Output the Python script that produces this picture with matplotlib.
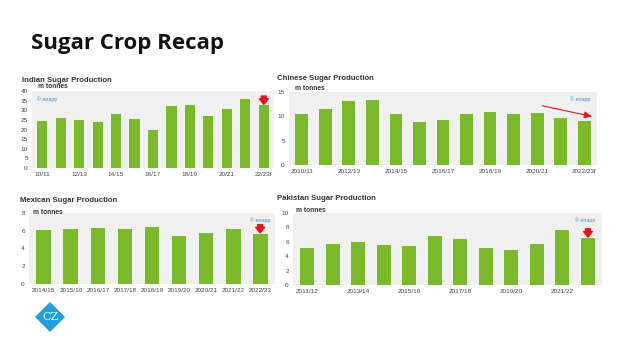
import matplotlib
matplotlib.use("Agg")
import matplotlib.pyplot as plt
from matplotlib.patches import Polygon

# ---- data ----
india_years = ["10/11", "11/12", "12/13", "13/14", "14/15", "15/16", "16/17",
               "17/18", "18/19", "19/20", "20/21", "21/22", "22/23f"]
india_vals = [24.3, 25.8, 25.1, 24.0, 27.9, 25.6, 20.0, 32.1, 32.9, 27.2, 30.4, 36.0, 32.7]

china_years = ["2010/11", "2011/12", "2012/13", "2013/14", "2014/15", "2015/16", "2016/17",
               "2017/18", "2018/19", "2019/20", "2020/21", "2021/22", "2022/23f"]
china_vals = [10.5, 11.5, 13.1, 13.4, 10.5, 8.8, 9.3, 10.4, 10.9, 10.5, 10.7, 9.6, 9.1]

mex_years = ["2014/15", "2015/16", "2016/17", "2017/18", "2018/19", "2019/20",
             "2020/21", "2021/22", "2022/23"]
mex_vals = [6.05, 6.15, 6.35, 6.15, 6.43, 5.38, 5.75, 6.15, 5.68]

pak_years = ["2011/12", "2012/13", "2013/14", "2014/15", "2015/16", "2016/17",
             "2017/18", "2018/19", "2019/20", "2020/21", "2021/22", "2022/23"]
pak_vals = [5.2, 5.75, 6.0, 5.5, 5.45, 6.85, 6.45, 5.2, 4.8, 5.65, 7.65, 6.55]

W, H = 624, 349
plt.rcParams["font.family"] = ["Liberation Sans", "DejaVu Sans"]
fig = plt.figure(figsize=(W / 100, H / 100), dpi=100)
fig.patch.set_facecolor("white")

GREEN = "#7ab929"
BG = "#f0f0f0"
TXT = "#444444"


def px_axes(left, top, right, bottom):
    return fig.add_axes([left / W, 1 - bottom / H, (right - left) / W, (bottom - top) / H])


def make_chart(box, cats, vals, ymax, ystep, label_every, title, title_xy, unit_xy,
               logo_left=False, down_arrow=True):
    ax = px_axes(*box)
    x = list(range(len(cats)))
    ax.set_facecolor(BG)
    ax.bar(x, vals, width=0.55, color=GREEN, zorder=2)
    ax.set_xlim(-0.55, len(cats) - 0.45)
    ax.set_ylim(0, ymax)
    ax.set_yticks([v for v in range(0, ymax + 1, ystep)])
    ax.set_xticks(x[::label_every])
    ax.set_xticklabels(cats[::label_every])
    ax.tick_params(axis="both", length=0, labelsize=4.6, colors=TXT, pad=3)
    for s in ax.spines.values():
        s.set_visible(False)
    fig.text(title_xy[0] / W, 1 - title_xy[1] / H, title, fontsize=5.6,
             fontweight="bold", color="#333333", va="center", ha="left")
    fig.text(unit_xy[0] / W, 1 - unit_xy[1] / H, "m tonnes", fontsize=4.8,
             fontweight="bold", color="#333333", va="center", ha="left")
    if logo_left:
        ax.text(0.02, 0.9, "© enapp", transform=ax.transAxes, fontsize=3.8,
                color="#3a8fd6", ha="left", va="center")
    else:
        ax.text(0.98, 0.9, "© enapp", transform=ax.transAxes, fontsize=3.8,
                color="#3a8fd6", ha="right", va="center")
    if down_arrow:
        ax.annotate("", xy=(x[-1], vals[-1]), xycoords="data",
                    xytext=(0, 6.5), textcoords="offset points",
                    arrowprops=dict(arrowstyle="simple,head_width=0.8,head_length=0.5,tail_width=0.45",
                                    mutation_scale=8, color="#e8141b", shrinkA=0, shrinkB=0.5))
    return ax


make_chart((32, 91, 274, 168), india_years, india_vals, 40, 5, 2,
           "Indian Sugar Production", (22, 80), (38, 86), logo_left=True)
axc = make_chart((289, 92, 597, 165), china_years, china_vals, 15, 5, 2,
                 "Chinese Sugar Production", (277, 78), (295, 89), down_arrow=False)
axc.annotate("", xy=(12.45, china_vals[-1] + 0.75), xytext=(10.1, china_vals[-3] + 1.6),
             arrowprops=dict(arrowstyle="-|>,head_width=0.2,head_length=0.45",
                             color="#e8141b", lw=0.8))
make_chart((29, 213, 275, 284), mex_years, mex_vals, 8, 2, 1,
           "Mexican Sugar Production", (20, 201), (33, 212))
make_chart((293, 213, 602, 285), pak_years, pak_vals, 10, 2, 2,
           "Pakistan Sugar Production", (277, 199), (296, 211))

# main title
fig.text(31 / W, 1 - 43 / H, "Sugar Crop Recap", fontsize=16, fontweight="bold",
         family="Open Sans", color="#111111", va="center", ha="left")

# logo
cx, cy, r = 50, 317, 15
diamond = Polygon([((cx - r) / W, 1 - cy / H), (cx / W, 1 - (cy - r) / H),
                   ((cx + r) / W, 1 - cy / H), (cx / W, 1 - (cy + r) / H)],
                  closed=True, transform=fig.transFigure, facecolor="#1ea0e0",
                  edgecolor="none")
fig.patches.append(diamond)
fig.text(cx / W, 1 - cy / H, "CZ", fontsize=8, family="DejaVu Serif", color="white",
         ha="center", va="center")

fig.savefig("out.png", dpi=100)
